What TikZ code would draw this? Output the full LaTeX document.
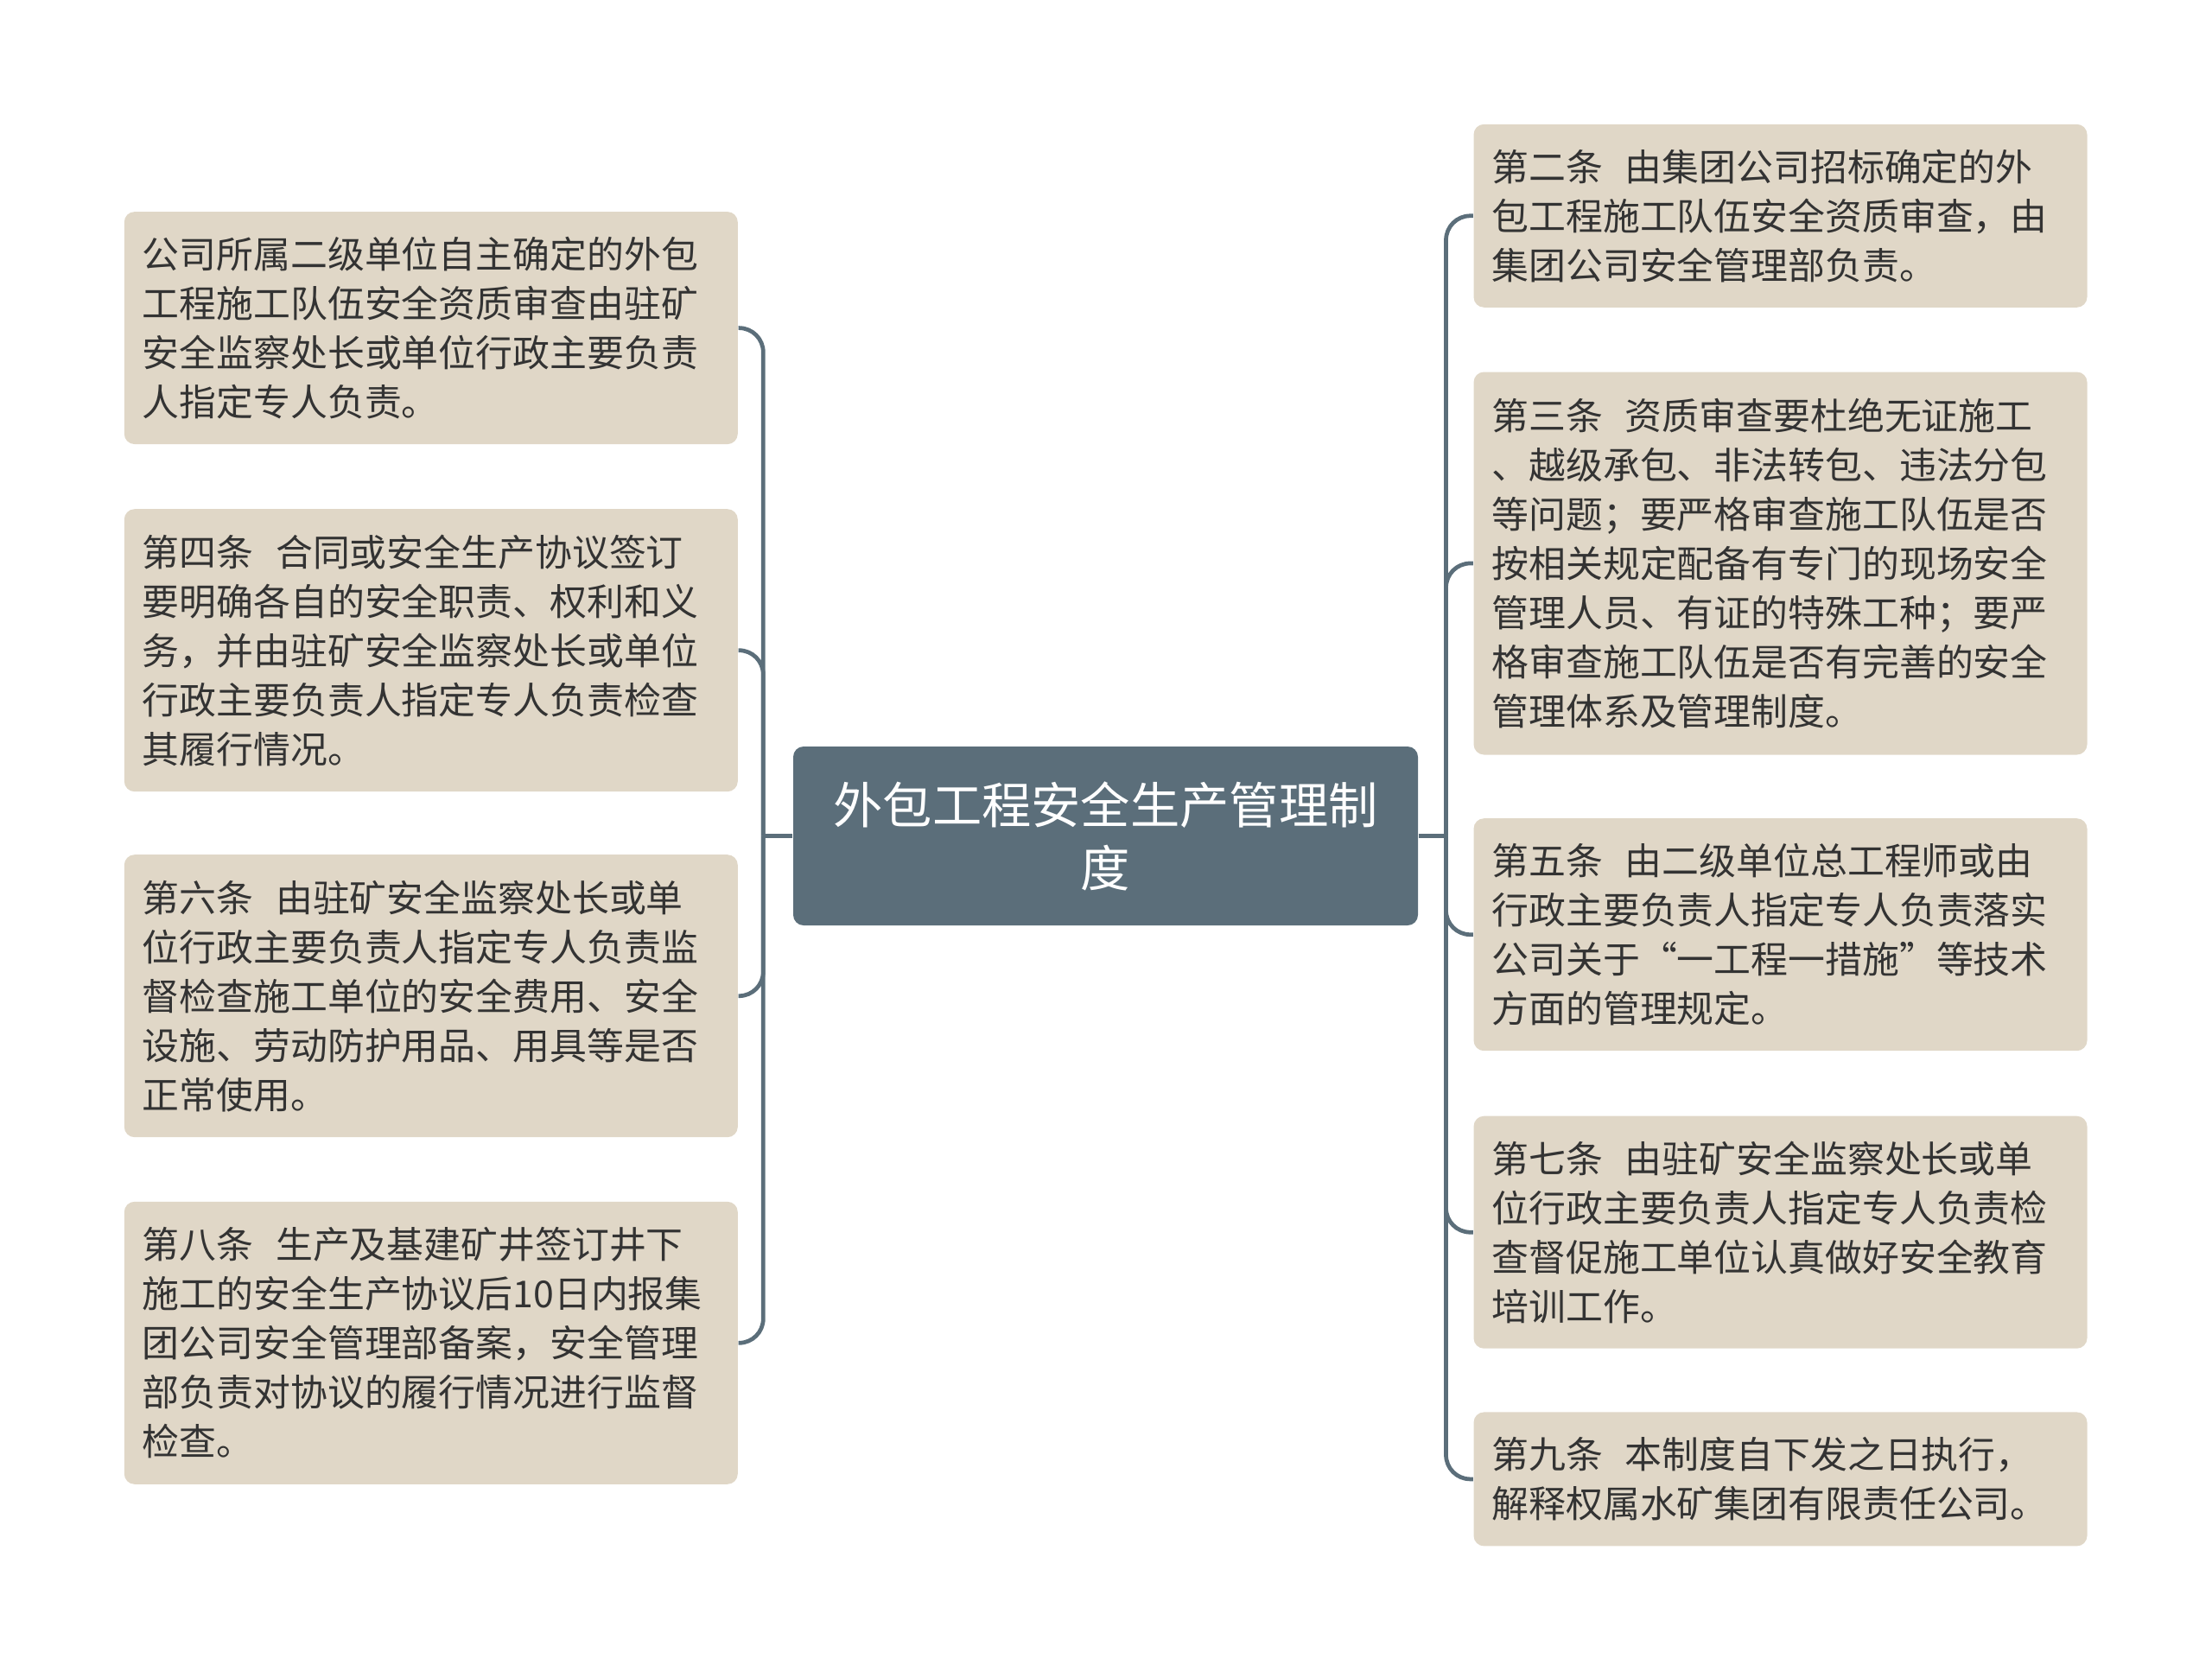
\documentclass[tikz,border=0pt]{standalone}
\usepackage{fontspec}
\usepackage{xcolor}
\usepackage{tikz}
\usetikzlibrary{positioning, calc}
\newfontfamily\cjk{Noto Sans CJK SC}

\definecolor{slate}{HTML}{5B6E7A}
\definecolor{sand}{HTML}{E0D7C7}
\definecolor{ink}{HTML}{333333}

\tikzset{
    rootbox/.style={rectangle, rounded corners=0.12cm, fill=slate, text=white,
        minimum width=7.23cm, minimum height=2.07cm, align=center,
        font=\cjk\fontsize{16.3}{20.8}\selectfont},
    itembox/.style={rectangle, rounded corners=0.12cm, fill=sand, text=ink,
        text width=6.68cm, inner xsep=0.21cm, inner ysep=0pt,
        minimum height=#1, align=left,
        font=\cjk\fontsize{12.2}{16.2}\selectfont},
    link/.style={draw=slate, line width=1.35pt, rounded corners=0.28cm}
}
\newcommand{\tiao}{\hspace{0.6em}}

\begin{document}
\begin{tikzpicture}
        % Fix the page size
        \useasboundingbox (0,0) rectangle (25.6,-19.34);

        % Draw root
        \node[rootbox] (root) at (12.795,-9.675) {外包工程安全生产管理制\\度};

        % Draw left items
        \node[itembox=2.69cm] (l1) at (4.988,-3.796) {公司所属二级单位自主确定的外包\\工程施工队伍安全资质审查由驻矿\\安全监察处长或单位行政主要负责\\人指定专人负责。};
        \node[itembox=3.27cm] (l2) at (4.988,-7.527) {第四条\tiao 合同或安全生产协议签订\\要明确各自的安全职责、权利和义\\务，并由驻矿安全监察处长或单位\\行政主要负责人指定专人负责检查\\其履行情况。};
        \node[itembox=3.27cm] (l3) at (4.988,-11.527) {第六条\tiao 由驻矿安全监察处长或单\\位行政主要负责人指定专人负责监\\督检查施工单位的安全费用、安全\\设施、劳动防护用品、用具等是否\\正常使用。};
        \node[itembox=3.27cm] (l4) at (4.988,-15.543) {第八条\tiao 生产及基建矿井签订井下\\施工的安全生产协议后10日内报集\\团公司安全管理部备案，安全管理\\部负责对协议的履行情况进行监督\\检查。};

        % Draw right items
        \node[itembox=2.12cm] (r1) at (20.605,-2.498) {第二条\tiao 由集团公司招标确定的外\\包工程施工队伍安全资质审查，由\\集团公司安全管理部负责。};
        \node[itembox=4.43cm] (r2) at (20.605,-6.52) {第三条\tiao 资质审查要杜绝无证施工\\、越级承包、非法转包、违法分包\\等问题；要严格审查施工队伍是否\\按相关规定配备有专门的现场安全\\管理人员、有证的特殊工种；要严\\格审查施工队伍是否有完善的安全\\管理体系及管理制度。};
        \node[itembox=2.69cm] (r3) at (20.605,-10.817) {第五条\tiao 由二级单位总工程师或由\\行政主要负责人指定专人负责落实\\公司关于“一工程一措施”等技术\\方面的管理规定。};
        \node[itembox=2.69cm] (r4) at (20.605,-14.262) {第七条\tiao 由驻矿安全监察处长或单\\位行政主要负责人指定专人负责检\\查督促施工单位认真做好安全教育\\培训工作。};
        \node[itembox=1.55cm] (r5) at (20.605,-17.119) {第九条\tiao 本制度自下发之日执行，\\解释权属水矿集团有限责任公司。};

        % Spines
        \coordinate (lspine) at (8.833,-9.675);
        \coordinate (rspine) at (16.735,-9.675);

        % Draw connectors
        \draw[link] (root.west) -- (lspine);
        \draw[link] (root.east) -- (rspine);
        \foreach \n in {l1,l2,l3,l4}
            \draw[link] (lspine) |- (\n.east);
        \foreach \n in {r1,r2,r3,r4,r5}
            \draw[link] (rspine) |- (\n.west);
    \end{tikzpicture}
\end{document}
